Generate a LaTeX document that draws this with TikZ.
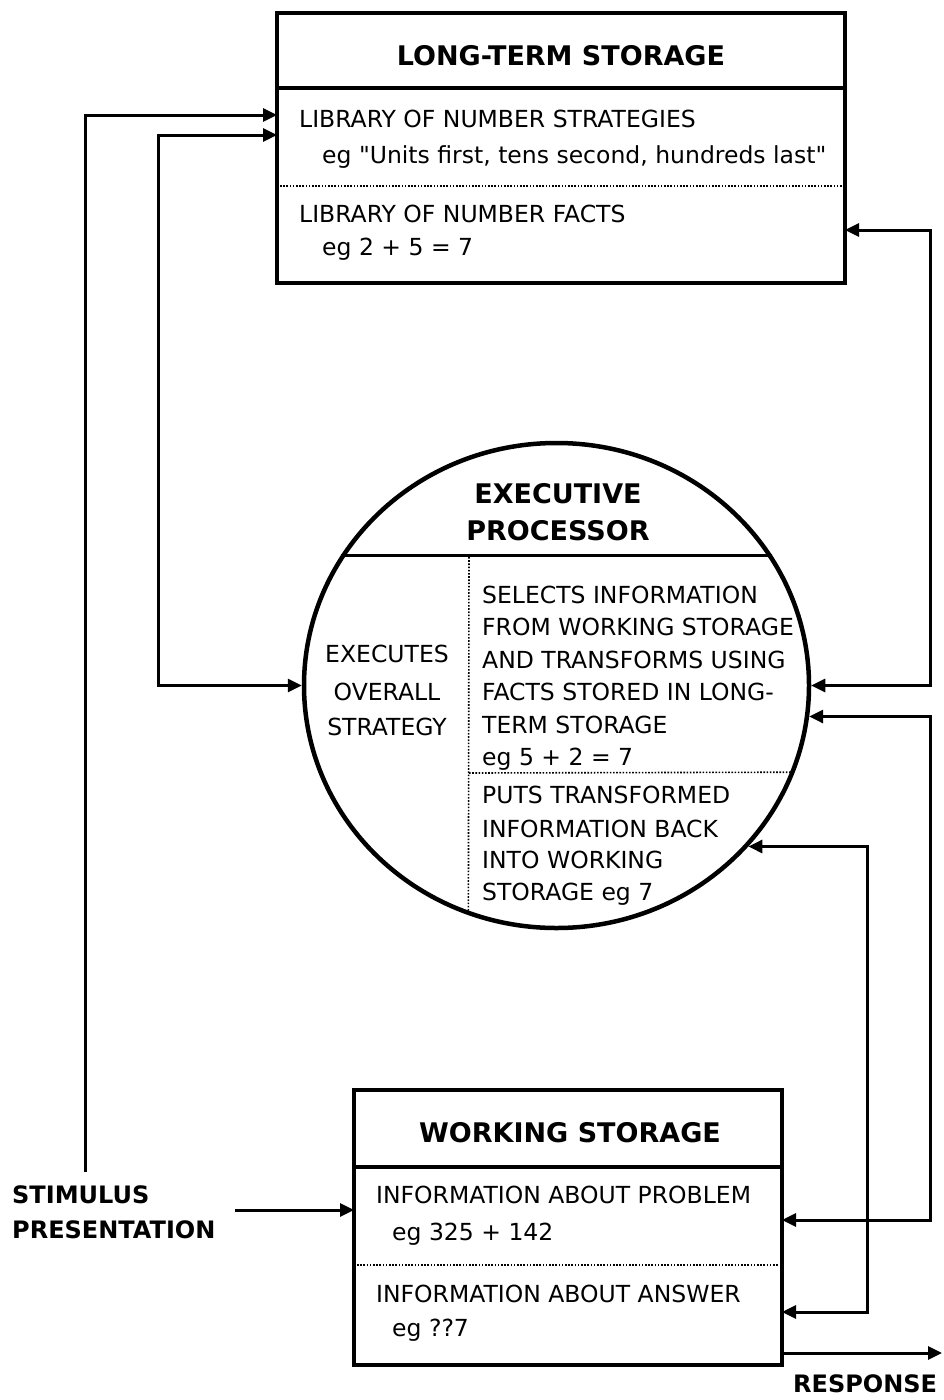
\documentclass[tikz,border=0pt]{standalone}
\usepackage{fontspec}
\setmainfont{DejaVu Sans}
\newfontfamily\quotefont{DejaVu Sans}
\newcommand{\sq}{{\quotefont"}}
\usetikzlibrary{arrows.meta,shapes.geometric}

\begin{document}
\begin{tikzpicture}[x=1pt,y=-1pt,
  box/.style={draw,line width=4.5pt,inner sep=0pt,outer sep=0pt},
  rule/.style={line width=3.5pt},
  dots/.style={dash pattern=on 1.6pt off 1.6pt,line width=1.6pt},
  link/.style={line width=3pt,{Triangle[length=14pt,width=13pt]}-{Triangle[length=14pt,width=13pt]}},
  feed/.style={line width=3pt,-{Triangle[length=14pt,width=13pt]}},
  txt/.style={anchor=base west,inner sep=0pt,font=\fontsize{23.5}{28}\selectfont},
  mid/.style={txt,anchor=base},
  head/.style={anchor=base,inner sep=0pt,font=\fontsize{27}{32}\selectfont\bfseries},
  tag/.style={anchor=base west,inner sep=0pt,font=\fontsize{24}{28}\selectfont\bfseries}]
  \useasboundingbox (0,0) rectangle (943,1400);

  % long-term storage
  \node[box,minimum width=568,minimum height=270] (lts) at (561,148) {};
  \draw[rule] (277,88) -- (845,88);
  \draw[dots] (280,186) -- (842,186);
  \node[head] (ltstitle) at (561,65) {LONG-TERM STORAGE};
  \node[txt] (strat) at (299,127) {LIBRARY OF NUMBER STRATEGIES};
  \node[txt] (strateg) at (322,163) {eg \sq Units first, tens second, hundreds last\sq};
  \node[txt] (facts) at (299,222) {LIBRARY OF NUMBER FACTS};
  \node[txt] (factseg) at (322,255) {eg 2 + 5 = 7};

  % executive processor
  \node[draw,ellipse,line width=4.5pt,inner sep=0pt,minimum width=505,minimum height=485] (ep) at (556.5,685.5) {};
  \draw[rule] (ep.149) -- (ep.31);
  \draw[dots] (469,557) -- (ep.-111);
  \draw[dots] (469,773) -- (ep.-20.4);
  \node[head] (eptitle) at (558,503) {EXECUTIVE};
  \node[head] (eptitle2) at (558,540) {PROCESSOR};
  \node[mid] (exec1) at (387,662) {EXECUTES};
  \node[mid] (exec2) at (387,700) {OVERALL};
  \node[mid] (exec3) at (387,735) {STRATEGY};
  \node[txt] (sel1) at (482,603) {SELECTS INFORMATION};
  \node[txt] (sel2) at (482,635) {FROM WORKING STORAGE};
  \node[txt] (sel3) at (482,668) {AND TRANSFORMS USING};
  \node[txt] (sel4) at (482,700) {FACTS STORED IN LONG-};
  \node[txt] (sel5) at (482,733) {TERM STORAGE};
  \node[txt] (sel6) at (482,765) {eg 5 + 2 = 7};
  \node[txt] (put1) at (482,803) {PUTS TRANSFORMED};
  \node[txt] (put2) at (482,837) {INFORMATION BACK};
  \node[txt] (put3) at (482,868) {INTO WORKING};
  \node[txt] (put4) at (482,900) {STORAGE eg 7};

  % working storage
  \node[box,minimum width=428,minimum height=275] (ws) at (568,1227.5) {};
  \draw[rule] (354,1167) -- (782,1167);
  \draw[dots] (357,1265) -- (779,1265);
  \node[head] (wstitle) at (570,1142) {WORKING STORAGE};
  \node[txt] (prob) at (376,1203) {INFORMATION ABOUT PROBLEM};
  \node[txt] (probeg) at (392,1240) {eg 325 + 142};
  \node[txt] (ans) at (376,1302) {INFORMATION ABOUT ANSWER};
  \node[txt] (anseg) at (392,1336) {eg ??7};

  \node[tag] (stim) at (12,1203) {STIMULUS};
  \node[tag] (stim2) at (12,1238) {PRESENTATION};
  \node[tag] (resp) at (793,1392) {RESPONSE};

  % connectors
  \coordinate (stimfoot) at (85,1172);
  \coordinate (outL) at (85,115);
  \coordinate (inL) at (158,135);
  \coordinate (outR) at (930,230);
  \coordinate (midR) at (930,1220);
  \coordinate (inR) at (867,1312);
  \coordinate (stimout) at (235,1210);
  \coordinate (respend) at (942,1353);
  \draw[feed] (stimfoot) -- (outL) -- (outL -| lts.west);
  \draw[link] (ep.west) -| (inL) -- (inL -| lts.west);
  \draw[link] (outR -| lts.east) -- (outR) |- (ep.east);
  \draw[link] (ep.-7.4) -| (midR) -- (midR -| ws.east);
  \draw[link] (ep.-40) -| (inR) -- (inR -| ws.east);
  \draw[feed] (stimout) -- (stimout -| ws.west);
  \draw[feed] (respend -| ws.east) -- (respend);
\end{tikzpicture}
\end{document}
